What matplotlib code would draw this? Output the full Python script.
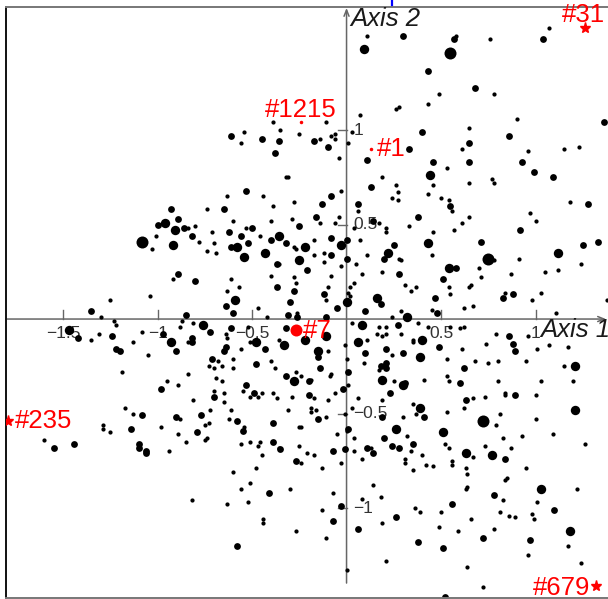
import numpy as np
import matplotlib
matplotlib.use("Agg")
import matplotlib.pyplot as plt
from matplotlib.lines import Line2D

plt.rcParams['font.family'] = ['Liberation Sans', 'DejaVu Sans']

# Individual coordinates on the first two axes, grouped by display weight
weight4_pts = [(-1.08, 0.41), (0.55, 1.41), (0.75, 0.32), (0.72, -0.54)]

weight3_pts = [
    (-0.96, 0.51), (-0.91, 0.47), (-0.92, 0.39), (-0.58, 0.38), (-0.54, 0.33), (-0.43, 0.35),
    (-0.22, 0.38), (-0.25, 0.31), (-0.36, 0.44), (-0.59, 0.10),
    (0.09, 1.43), (0.44, 0.76), (-0.03, 0.39), (0.43, 0.40), (0.22, 0.35), (0.54, 0.27),
    (0.16, 0.11), (0.00, 0.09), (0.32, 0.01), (1.12, 0.35), (-1.47, -0.06),
    (-0.76, -0.03), (-0.93, -0.12), (-0.48, -0.12), (-0.33, -0.14), (-0.22, -0.11), (-0.28, -0.33),
    (0.08, -0.03), (-0.11, -0.09), (0.06, -0.12), (0.40, -0.11), (-0.15, -0.17), (0.39, -0.20),
    (0.19, -0.32), (0.30, -0.35), (0.39, -0.47), (0.26, -0.58), (0.51, -0.60),
    (1.21, -0.25), (1.21, -0.48), (0.63, -0.71), (0.77, -0.72), (1.03, -0.90), (1.18, -1.12),
]

weight2_pts = [
    (-0.61, 0.97), (-0.45, 0.95), (-0.36, 0.94), (-0.38, 0.88), (-0.53, 0.68), (-0.93, 0.58),
    (-0.65, 0.58), (-0.89, 0.53), (-1.00, 0.50), (-0.86, 0.48), (-0.82, 0.44), (-0.62, 0.46),
    (-0.50, 0.48), (-0.56, 0.44), (-0.40, 0.42), (-0.25, 0.49), (-0.32, 0.40), (-0.61, 0.38),
    (-0.52, 0.40), (-0.21, 0.26), (-0.37, 0.29), (-0.89, 0.24), (-0.80, 0.20), (-0.37, 0.17),
    (-0.28, 0.15), (-0.64, 0.07), (-0.60, 0.03), (-0.30, 0.09), (-0.85, 0.02), (-0.31, 0.02),
    (-0.26, 0.01),
    (0.30, 1.50), (0.57, 1.48), (0.43, 1.31), (0.40, 0.99), (-0.17, 0.94), (-0.10, 0.91),
    (0.33, 0.90), (0.11, 0.84), (0.46, 0.83), (0.13, 0.70), (-0.08, 0.65), (0.55, 0.60),
    (-0.13, 0.61), (0.06, 0.61), (-0.16, 0.54), (0.38, 0.54), (0.14, 0.52), (-0.08, 0.43),
    (0.00, 0.42), (0.25, 0.39), (-0.08, 0.34), (0.00, 0.32), (0.20, 0.32), (0.58, 0.27),
    (0.28, 0.24), (0.51, 0.21), (-0.12, 0.13), (0.47, 0.11), (0.18, 0.08), (-0.05, 0.06),
    (0.10, 0.04), (0.48, 0.03), (-0.11, 0.01),
    (1.04, 1.48), (0.68, 1.22), (1.36, 1.04), (0.86, 0.97), (0.65, 0.93), (0.65, 0.83),
    (0.93, 0.83), (0.99, 0.78), (1.09, 0.75), (1.28, 0.61), (0.92, 0.47), (0.71, 0.41),
    (1.33, 0.41), (1.25, 0.39), (0.88, 0.13), (0.83, 0.11),
    (-1.35, 0.04), (-1.42, -0.10), (-1.24, -0.09), (-1.22, -0.16), (-1.20, -0.17), (-1.08, -0.51),
    (-1.14, -0.58), (-1.55, -0.68), (-1.44, -0.66), (-1.10, -0.66), (-1.10, -0.68), (-1.06, -0.70),
    (-1.06, -0.71),
    (-0.97, -0.08), (-0.72, -0.07), (-0.61, -0.05), (-0.82, -0.10), (-0.82, -0.12), (-0.90, -0.17),
    (-0.64, -0.15), (-0.65, -0.17), (-0.43, -0.16), (-0.32, -0.05), (-0.71, -0.21), (-0.48, -0.24),
    (-0.32, -0.30), (-0.98, -0.37), (-0.70, -0.41), (-0.53, -0.35), (-0.49, -0.39), (-0.77, -0.51),
    (-0.90, -0.52), (-0.79, -0.60), (-0.58, -0.54), (-0.55, -0.59), (-0.39, -0.55), (-0.39, -0.65),
    (-0.35, -0.69), (-0.27, -0.75), (-0.41, -0.92), (-0.58, -1.20),
    (0.27, -0.03), (0.49, -0.15), (-0.15, -0.20), (0.10, -0.18), (0.21, -0.16), (0.30, -0.18),
    (-0.14, -0.26), (0.01, -0.28), (0.18, -0.25), (0.21, -0.23), (0.21, -0.26), (0.31, -0.34),
    (-0.20, -0.33), (-0.20, -0.40), (-0.02, -0.37), (0.23, -0.39), (0.41, -0.52), (-0.15, -0.53),
    (0.19, -0.52), (0.01, -0.58), (0.20, -0.63), (0.35, -0.66), (-0.07, -0.70), (-0.01, -0.69),
    (0.11, -0.68), (0.14, -0.71), (0.24, -0.67), (0.28, -0.68), (0.56, -0.98), (-0.03, -0.99),
    (-0.07, -1.07), (0.26, -1.05), (0.06, -1.11), (0.38, -1.18), (0.51, -1.21), (0.52, -1.47),
    (0.86, -0.09), (0.88, -0.13), (0.89, -0.17), (0.62, -0.26), (0.60, -0.34), (0.63, -0.43),
    (0.89, -0.40), (0.84, -0.74), (0.78, -0.93), (1.10, -1.01), (0.72, -1.16), (0.97, -1.17),
]

weight1_pts = [
    (-1.03, 0.37), (-1.25, 0.10), (-1.04, 0.12),
    (-0.39, 1.04), (-0.54, 0.99), (-0.56, 0.93), (-0.35, 1.00), (-0.25, 0.98), (-0.32, 0.75),
    (-0.31, 0.75), (-0.63, 0.65), (-0.44, 0.65), (-0.28, 0.62), (-0.39, 0.60), (-0.74, 0.58),
    (-0.60, 0.52), (-0.40, 0.52), (-0.29, 0.53), (-0.84, 0.48), (-0.80, 0.49), (-1.01, 0.44),
    (-0.71, 0.46), (-0.53, 0.48), (-0.46, 0.44), (-0.78, 0.41), (-0.70, 0.40), (-0.74, 0.36),
    (-0.69, 0.35), (-0.28, 0.38), (-0.27, 0.37), (-0.36, 0.29), (-0.92, 0.21), (-0.61, 0.21),
    (-0.40, 0.23), (-0.28, 0.22), (-0.27, 0.19), (-0.63, 0.15), (-0.57, 0.17), (-0.47, 0.06),
    (-0.87, -0.01), (-0.42, 0.01), (-0.26, 0.03),
    (0.11, 1.50), (0.58, 1.50), (0.49, 1.19), (0.43, 1.14), (0.28, 1.12), (0.26, 1.11),
    (0.07, 1.08), (-0.11, 1.04), (0.03, 0.99), (-0.06, 0.98), (-0.08, 0.97), (-0.14, 0.95),
    (-0.06, 0.95), (0.01, 0.93), (-0.04, 0.85), (0.53, 0.80), (0.19, 0.75), (0.26, 0.71),
    (0.46, 0.71), (-0.03, 0.68), (0.27, 0.67), (0.43, 0.66), (0.24, 0.64), (0.27, 0.63),
    (0.50, 0.64), (0.54, 0.63), (0.06, 0.57), (-0.04, 0.54), (0.56, 0.57), (-0.14, 0.51),
    (-0.06, 0.51), (0.04, 0.48), (0.17, 0.51), (0.21, 0.48), (0.21, 0.46), (0.33, 0.49),
    (0.46, 0.46), (0.57, 0.47), (-0.17, 0.42), (0.07, 0.42), (-0.17, 0.34), (-0.12, 0.35),
    (0.11, 0.34), (0.28, 0.32), (0.29, 0.31), (0.45, 0.34), (-0.12, 0.30), (-0.03, 0.28),
    (0.05, 0.29), (0.19, 0.25), (0.08, 0.24), (-0.08, 0.23), (0.04, 0.19), (0.02, 0.17),
    (-0.10, 0.17), (0.31, 0.18), (0.37, 0.17), (0.54, 0.17), (0.34, 0.15), (0.55, 0.13),
    (0.01, 0.14), (-0.11, 0.10), (0.02, 0.12), (0.29, 0.04), (0.45, 0.05), (0.24, 0.01),
    (1.07, 1.54), (0.76, 1.48), (0.78, 1.19), (0.90, 1.06), (0.65, 1.01), (0.61, 0.90),
    (0.96, 0.89), (1.15, 0.90), (1.23, 0.91), (0.65, 0.72), (0.77, 0.74), (0.78, 0.72),
    (1.18, 0.62), (0.97, 0.56), (1.00, 0.52), (0.65, 0.54), (0.61, 0.51), (0.78, 0.31),
    (0.91, 0.32), (0.70, 0.27), (1.05, 0.25), (1.12, 0.26), (1.24, 0.29), (0.87, 0.24),
    (0.71, 0.22), (0.66, 0.18), (0.65, 0.17), (0.84, 0.14), (1.03, 0.14), (0.98, 0.10),
    (1.38, 0.10), (0.62, 0.06), (0.67, 0.07), (1.11, 0.03),
    (-1.30, 0.01), (-1.35, -0.11), (-1.31, -0.08), (-1.23, -0.01), (-1.22, -0.03), (-1.13, -0.12),
    (-1.08, -0.07), (-1.05, -0.19), (-1.19, -0.28), (-1.17, -0.47), (-1.13, -0.50), (-1.29, -0.56),
    (-1.29, -0.58), (-1.25, -0.60), (-1.60, -0.64),
    (-0.88, -0.04), (-0.81, -0.02), (-0.52, -0.04), (-0.64, -0.08), (-0.84, -0.12), (-0.63, -0.10),
    (-0.56, -0.16), (-0.51, -0.12), (-0.36, -0.11), (-0.68, -0.22), (-0.73, -0.25), (-0.70, -0.26),
    (-0.66, -0.25), (-0.60, -0.21), (-0.60, -0.26), (-0.40, -0.22), (-0.38, -0.26), (-0.27, -0.28),
    (-0.24, -0.30), (-0.84, -0.29), (-0.95, -0.33), (-0.89, -0.35), (-0.69, -0.31), (-0.66, -0.33),
    (-0.70, -0.38), (-0.65, -0.39), (-0.65, -0.44), (-0.81, -0.43), (-0.55, -0.38), (-0.51, -0.41),
    (-0.47, -0.41), (-0.45, -0.39), (-0.39, -0.39), (-0.37, -0.42), (-0.29, -0.41), (-0.31, -0.48),
    (-0.72, -0.48), (-0.61, -0.48), (-0.88, -0.53), (-0.98, -0.57), (-0.75, -0.56), (-0.73, -0.55),
    (-0.89, -0.61), (-0.85, -0.65), (-0.75, -0.64), (-0.74, -0.63), (-0.62, -0.53), (-0.54, -0.57),
    (-0.25, -0.57), (-0.24, -0.57), (-0.56, -0.66), (-0.51, -0.65), (-0.46, -0.65), (-0.47, -0.67),
    (-0.36, -0.68), (-0.25, -0.67), (-0.94, -0.70), (-0.45, -0.72), (-0.24, -0.76), (-0.60, -0.81),
    (-0.48, -0.79), (-0.51, -0.87), (-0.56, -0.90), (-0.30, -0.90), (-0.82, -0.96), (-0.63, -0.98),
    (-0.52, -0.97), (-0.44, -1.06), (-0.44, -1.08), (-0.27, -1.12),
    (0.03, -0.02), (-0.01, -0.14), (0.11, -0.11), (0.16, -0.08), (0.17, -0.04), (0.21, -0.04),
    (0.19, -0.09), (0.21, -0.08), (0.29, -0.08), (0.35, -0.12), (0.35, -0.11), (0.38, -0.02),
    (0.43, -0.04), (0.55, -0.04), (-0.10, -0.17), (0.00, -0.21), (0.09, -0.23), (0.24, -0.19),
    (0.53, -0.21), (-0.08, -0.29), (-0.09, -0.30), (0.17, -0.27), (0.25, -0.33), (0.41, -0.32),
    (0.53, -0.30), (0.54, -0.33), (-0.19, -0.32), (-0.17, -0.42), (-0.10, -0.43), (-0.06, -0.39),
    (0.01, -0.35), (0.06, -0.42), (0.19, -0.43), (0.35, -0.45), (0.37, -0.50), (0.53, -0.49),
    (0.30, -0.52), (-0.19, -0.47), (-0.16, -0.48), (-0.19, -0.49), (-0.11, -0.52), (-0.01, -0.50),
    (0.03, -0.47), (0.00, -0.59), (-0.05, -0.61), (0.04, -0.63), (0.32, -0.62), (0.52, -0.66),
    (0.54, -0.68), (-0.21, -0.71), (-0.17, -0.72), (0.04, -0.70), (0.13, -0.68), (0.34, -0.70),
    (0.40, -0.72), (0.08, -0.74), (0.31, -0.74), (0.31, -0.76), (0.42, -0.77), (0.46, -0.78),
    (0.56, -0.77), (0.56, -0.75), (-0.03, -0.76), (-0.13, -0.79), (0.35, -0.80), (0.14, -0.88),
    (-0.07, -0.92), (0.18, -0.94), (0.08, -0.95), (-0.13, -1.01), (0.36, -1.00), (0.39, -1.02),
    (0.50, -1.02), (0.19, -1.08), (0.49, -1.10), (-0.11, -1.16), (0.21, -1.28), (0.00, -1.33),
    (0.60, -0.05), (0.62, -0.04), (0.79, -0.08), (0.96, -0.09), (0.74, -0.13), (0.61, -0.16),
    (1.07, -0.14), (1.17, -0.15), (1.01, -0.16), (0.68, -0.22), (0.75, -0.23), (0.80, -0.22),
    (0.95, -0.22), (1.15, -0.25), (0.80, -0.33), (1.03, -0.33), (1.20, -0.33), (0.67, -0.42),
    (0.73, -0.41), (0.84, -0.39), (0.84, -0.40), (1.00, -0.40), (0.62, -0.47), (0.81, -0.50),
    (0.79, -0.56), (1.00, -0.53), (1.09, -0.61), (0.83, -0.63), (0.93, -0.62), (1.26, -0.66),
    (0.73, -0.67), (0.87, -0.68), (0.67, -0.73), (0.95, -0.79), (0.63, -0.79), (0.64, -0.82),
    (0.85, -0.84), (0.84, -0.85), (0.64, -0.89), (0.63, -0.90), (1.22, -0.90), (0.83, -0.96),
    (1.01, -0.97), (0.81, -1.02), (0.86, -1.04), (0.89, -1.05), (0.98, -1.03), (0.99, -1.06),
    (0.66, -1.06), (0.59, -1.12), (0.78, -1.11), (1.17, -1.20), (0.96, -1.25), (0.64, -1.31),
    (1.24, -1.29), (0.72, -1.42),
]

# Highlighted individuals
dot_labels = ["#1215", "#1", "#7"]
dot_x = [-0.24, 0.13, -0.27]
dot_y = [1.04, 0.90, -0.06]
dot_size = [3.5, 3.5, 12.0]           # marker diameter, px
dot_offset = [(0, 12), (6, 0), (7, -1)]
dot_align = ["center", "left", "left"]

star_labels = ["#31", "#235", "#679"]
star_x = [1.26, -1.79, 1.32]
star_y = [1.54, -0.54, -1.41]
star_offset = [(-1, 13), (7, 0), (-6, -2)]
star_align = ["center", "left", "right"]

x_ticks = [-1.5, -1.0, -0.5, 0.5, 1.0]
x_tick_labels = ["\u22121.5", "\u22121", "\u22120.5", "0.5", "1"]
y_ticks = [1.0, 0.5, -0.5, -1.0]
y_tick_labels = ["1", "0.5", "\u22120.5", "\u22121"]

DPI = 100
PX = 1.0 / 189.0        # one pixel in axis units
weight_diam = {1: 4.2, 2: 6.8, 3: 9.4, 4: 12.0}
axis_grey = "#666666"

fig = plt.figure(figsize=(6.08, 5.99), dpi=DPI)
ax = fig.add_axes([6 / 608, 1 / 599, 614 / 608, 591 / 599])
ax.set_xlim(-1.802, 1.447)
ax.set_ylim(-1.476, 1.651)
ax.set_xticks([])
ax.set_yticks([])
ax.spines["left"].set_color("#111111")
ax.spines["left"].set_linewidth(1.4)
for side in ("top", "bottom"):
    ax.spines[side].set_color("#777777")
    ax.spines[side].set_linewidth(1.4)
ax.spines["right"].set_visible(False)

# axes through the origin with arrow heads
arrow_kw = dict(arrowstyle="->,head_length=0.45,head_width=0.18", color=axis_grey,
                lw=1.1, shrinkA=0, shrinkB=0)
ax.annotate("", xy=(1.373, 0), xytext=(-1.802, 0), arrowprops=arrow_kw, zorder=1)
ax.annotate("", xy=(0, 1.646), xytext=(0, -1.397), arrowprops=arrow_kw, zorder=1)

for t, lab in zip(x_ticks, x_tick_labels):
    ax.plot([t, t], [0, 9 * PX], color=axis_grey, lw=1.0, zorder=1)
    ax.text(t, -14 * PX, lab, ha="center", va="center", fontsize=12.5, color="#333333", zorder=1)
for t, lab in zip(y_ticks, y_tick_labels):
    ax.plot([-9 * PX, 0], [t, t], color=axis_grey, lw=1.0, zorder=1)
    ax.text(7 * PX, t, lab, ha="left", va="center", fontsize=12.5, color="#333333", zorder=1)

ax.text(4 * PX, 1.587, "Axis 2", ha="left", va="center", fontsize=18.5,
        style="italic", color="#1a1a1a", zorder=4)
ax.text(1.024, -0.058, "Axis 1", ha="left", va="center", fontsize=18.5,
        style="italic", color="#1a1a1a", zorder=4)

for w, pts in ((1, weight1_pts), (2, weight2_pts), (3, weight3_pts), (4, weight4_pts)):
    arr = np.array(pts)
    s = (weight_diam[w] * 72 / DPI) ** 2
    ax.scatter(arr[:, 0], arr[:, 1], s=s, c="black", linewidths=0, zorder=2)

for lab, x, y, d, off, ha in zip(dot_labels, dot_x, dot_y, dot_size, dot_offset, dot_align):
    ax.scatter([x], [y], s=(d * 72 / DPI) ** 2, c="red", linewidths=0, zorder=3)
    ax.annotate(lab, xy=(x, y), xytext=off, textcoords="offset pixels", ha=ha, va="center",
                fontsize=18.5, color="red", zorder=5)

for lab, x, y, off, ha in zip(star_labels, star_x, star_y, star_offset, star_align):
    ax.plot([x], [y], marker="*", ms=8, color="red", mec="red", lw=0, zorder=3)
    ax.annotate(lab, xy=(x, y), xytext=off, textcoords="offset pixels", ha=ha, va="center",
                fontsize=18.5, color="red", zorder=5)

# small blue mark above the frame
fig.add_artist(Line2D([392 / 608, 392 / 608], [1.0, 1 - 5 / 599], color="blue", lw=1.6))

fig.savefig("out.png", dpi=DPI)
